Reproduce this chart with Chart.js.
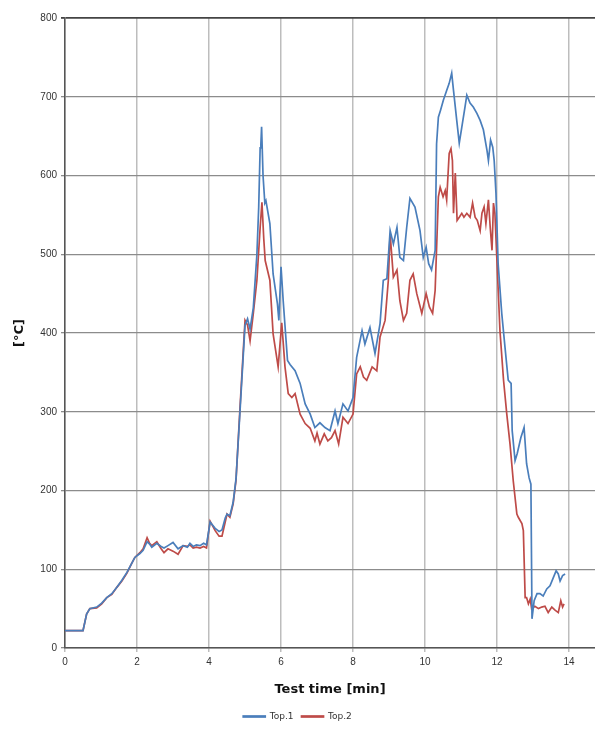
<!DOCTYPE html>
<html>
<head>
<meta charset="utf-8">
<script src="https://cdn.jsdelivr.net/npm/chart.js@4/dist/chart.umd.min.js"></script>
<style>
  html, body { margin: 0; padding: 0; background: #fff; }
  #wrap { width: 595px; height: 731px; }
</style>
</head>
<body>
<div id="wrap"><canvas id="tempChart" width="595" height="731"></canvas></div>
<script>
// Top.1 (blue)
const time1 = [0,0.5,0.6,0.69,0.88,1.02,1.16,1.3,1.44,1.58,1.72,1.86,1.94,2.08,2.17,2.28,2.35,2.41,2.55,2.67,2.75,2.86,3.0,3.14,3.28,3.4,3.47,3.56,3.65,3.75,3.85,3.93,4.03,4.17,4.28,4.36,4.45,4.5,4.58,4.67,4.75,4.86,5.0,5.07,5.14,5.23,5.33,5.38,5.42,5.44,5.46,5.5,5.55,5.58,5.69,5.78,5.9,5.94,6.0,6.06,6.18,6.25,6.39,6.53,6.67,6.81,6.94,7.08,7.22,7.36,7.5,7.58,7.72,7.86,8.0,8.1,8.25,8.33,8.47,8.61,8.75,8.84,8.94,9.03,9.12,9.22,9.3,9.4,9.49,9.58,9.72,9.86,9.95,10.03,10.1,10.18,10.28,10.32,10.37,10.43,10.51,10.6,10.67,10.74,10.79,10.88,10.95,11.02,11.11,11.16,11.25,11.34,11.44,11.53,11.62,11.72,11.76,11.82,11.88,11.92,11.97,12.03,12.13,12.22,12.31,12.39,12.42,12.5,12.56,12.66,12.75,12.82,12.89,12.94,12.97,13.03,13.11,13.19,13.28,13.38,13.47,13.56,13.64,13.7,13.75,13.82,13.89];
const top1 = [22,22,43,50,52,57,64,69,77,86,96,108,115,120,124,135,132,128,133,129,127,130,134,126,130,128,133,129,131,130,133,131,160,152,148,150,165,170,168,185,215,300,410,418,405,432,500,560,635,640,662,600,565,568,539,475,437,416,484,441,365,360,352,336,310,297,280,286,280,276,301,285,310,301,318,369,403,386,407,374,412,467,469,530,513,534,496,492,534,571,560,530,496,509,488,480,505,640,674,683,696,708,717,730,708,670,641,661,687,702,692,687,679,670,658,632,619,645,636,619,577,488,425,382,340,336,276,238,247,267,280,234,216,208,37,60,69,69,66,75,79,89,98,94,85,92,94];

// Top.2 (red)
const time2 = [0,0.5,0.6,0.69,0.88,1.02,1.16,1.3,1.44,1.58,1.72,1.86,1.94,2.08,2.17,2.28,2.35,2.41,2.55,2.67,2.75,2.86,3.0,3.14,3.28,3.4,3.47,3.56,3.65,3.75,3.85,3.93,4.03,4.17,4.28,4.36,4.45,4.5,4.58,4.67,4.75,4.86,5.0,5.07,5.14,5.23,5.33,5.42,5.47,5.52,5.56,5.69,5.78,5.92,6.02,6.11,6.2,6.3,6.39,6.53,6.67,6.81,6.94,7.0,7.08,7.2,7.3,7.4,7.5,7.6,7.72,7.86,8.0,8.1,8.2,8.29,8.38,8.53,8.66,8.75,8.89,8.98,9.03,9.12,9.22,9.3,9.4,9.49,9.58,9.67,9.77,9.91,10.03,10.12,10.21,10.28,10.37,10.42,10.5,10.56,10.6,10.67,10.72,10.76,10.79,10.84,10.89,10.95,11.02,11.08,11.16,11.25,11.32,11.39,11.45,11.53,11.58,11.64,11.69,11.76,11.81,11.86,11.9,11.94,12.0,12.08,12.18,12.27,12.36,12.45,12.55,12.59,12.69,12.73,12.78,12.82,12.87,12.92,12.96,13.05,13.15,13.24,13.33,13.42,13.52,13.61,13.7,13.77,13.82,13.86];
const top2 = [22,22,43,50,51,56,64,68,77,85,95,108,115,121,126,140,133,130,135,126,121,126,123,119,130,129,131,127,128,127,129,127,161,149,142,142,160,170,166,183,213,305,416,410,390,425,467,534,566,520,492,467,399,357,413,357,323,318,323,297,285,279,263,273,259,272,263,267,276,259,293,285,297,348,357,344,340,357,352,395,416,467,526,471,480,441,416,425,467,475,450,425,450,433,425,454,573,585,573,581,569,628,634,619,552,603,543,547,552,547,552,547,565,547,543,530,552,560,539,569,534,505,565,552,488,403,340,297,259,212,170,166,158,149,64,64,56,62,50,53,50,52,53,45,52,48,45,60,52,56];

const xTicks = [0, 2, 4, 6, 8, 10, 12, 14];
const yTicks = [0, 100, 200, 300, 400, 500, 600, 700, 800];

function toPoints(xs, ys) {
    return xs.map(function (x, i) { return { x: x, y: ys[i] }; });
}

const ctx = document.getElementById('tempChart').getContext('2d');
const myChart = new Chart(ctx, {
    type: 'line',
    data: {
        datasets: [{
            label: 'Top.1',
            data: toPoints(time1, top1),
            borderColor: '#4a7ebb',
            backgroundColor: '#4a7ebb',
            borderWidth: 1.7,
            pointRadius: 0,
            tension: 0
        }, {
            label: 'Top.2',
            data: toPoints(time2, top2),
            borderColor: '#be4b48',
            backgroundColor: '#be4b48',
            borderWidth: 1.7,
            pointRadius: 0,
            tension: 0
        }]
    },
    options: {
        responsive: false,
        animation: false,
        layout: { padding: { top: 18, right: 0, bottom: 0, left: 0 } },
        plugins: {
            tooltip: { enabled: false },
            legend: {
                position: 'bottom',
                labels: {
                    boxWidth: 22,
                    boxHeight: 1,
                    color: '#333',
                    padding: 8,
                    font: { family: 'DejaVu Sans', size: 9 }
                }
            }
        },
        scales: {
            x: {
                type: 'linear',
                min: 0,
                max: 14.72,
                afterBuildTicks: function (axis) {
                    axis.ticks = xTicks.map(function (v) { return { value: v }; });
                },
                afterFit: function (axis) { axis.height = 56; },
                border: { color: '#555', width: 1.5 },
                grid: {
                    color: '#bdbdbd',
                    lineWidth: 1.5,
                    tickLength: 4
                },
                ticks: {
                    color: '#333',
                    padding: 4,
                    maxRotation: 0,
                    font: { family: 'Liberation Sans', size: 10 }
                },
                title: {
                    display: true,
                    text: 'Test time [min]',
                    color: '#111',
                    padding: { top: 4, bottom: 7 },
                    font: { family: 'DejaVu Sans', size: 13, weight: 'bold' }
                }
            },
            y: {
                min: 0,
                max: 800,
                afterBuildTicks: function (axis) {
                    axis.ticks = yTicks.map(function (v) { return { value: v }; });
                },
                afterFit: function (axis) { axis.width = 65; },
                border: { color: '#555', width: 1.5 },
                grid: {
                    color: function (c) { return c.tick && c.tick.value === 800 ? '#444' : '#8c8c8c'; },
                    lineWidth: function (c) { return c.tick && c.tick.value === 800 ? 1.8 : 1.3; },
                    tickLength: 4
                },
                ticks: {
                    color: '#333',
                    padding: 4,
                    font: { family: 'Liberation Sans', size: 10 }
                },
                title: {
                    display: true,
                    text: '[°C]',
                    color: '#111',
                    padding: { top: 12, bottom: 0 },
                    font: { family: 'DejaVu Sans', size: 13, weight: 'bold' }
                }
            }
        }
    }
});
</script>
</body>
</html>
